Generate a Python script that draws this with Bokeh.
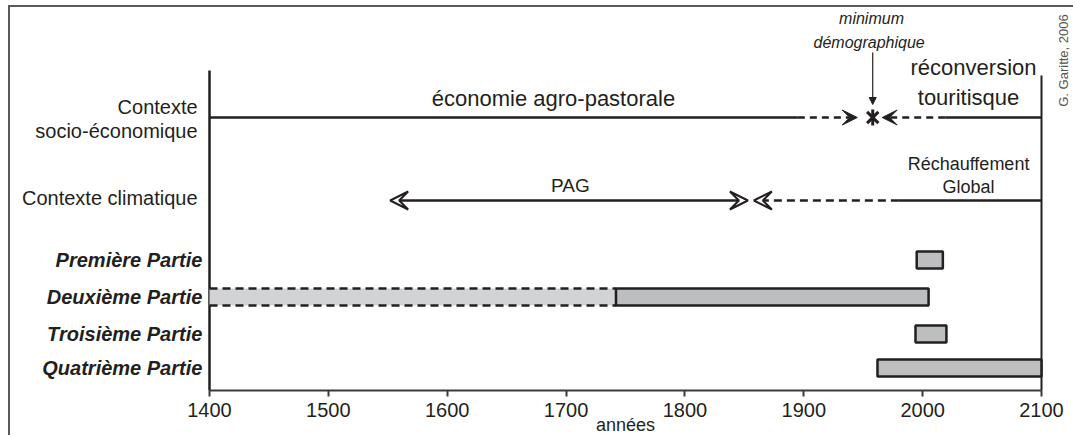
import math
from bokeh.plotting import figure
from bokeh.models import Range1d, LinearAxis, FixedTicker, Arrow, VeeHead, NormalHead
from bokeh.core.properties import value
from bokeh.embed import file_html
from bokeh.resources import INLINE

# ---------------- data ----------------
parts = ["Première Partie", "Deuxième Partie", "Troisième Partie", "Quatrième Partie"]
part_start = [1995, 1742, 1994, 1962]
part_end = [2017, 2005, 2020, 2100]
deux_ext_start = [1400]
deux_ext_end = [1742]
year_ticks = [1400, 1500, 1600, 1700, 1800, 1900, 2000, 2100]

socio_start = 1400
socio_solid_end = 1895
socio_arrow_tip = 1945
demog_min = 1958
socio_back_tip = 1966
socio_back_start = 2019
socio_end = 2100

pag_start = 1552
pag_end = 1853
rg_tip = 1858
rg_solid_start = 1980
clim_end = 2100

# ---------------- layout ----------------
INK = "#231f20"
SANS = "Liberation Sans"
PX_PER_YEAR = 832 / 700.0
OX, OY = 10, 7            # page position of figure content (margin + border)
FW, FH = 1065, 430        # figure size
X0 = 1400 - (209 - OX) / PX_PER_YEAR
X1 = 1400 + (OX + FW - 209) / PX_PER_YEAR
Y_AXIS = 390

Y_SOCIO = 117
Y_CLIM = 200
Y_ROWS = [259.5, 296.5, 333.5, 367.5]
BAR_H = 17

p = figure(width=FW, height=FH, output_backend="svg", toolbar_location=None,
           x_range=Range1d(X0, X1), y_range=Range1d(OY + FH, OY),
           x_axis_location=None, y_axis_location=None,
           min_border_left=0, min_border_right=0, min_border_top=0,
           min_border_bottom=0, outline_line_color=None,
           background_fill_color="white", border_fill_color="white",
           styles={"margin-left": "8px", "margin-top": "5px", "vertical-align": "top",
                   "border-left": "2px solid #5a5a5a", "border-top": "2px solid #5a5a5a"})
p.xgrid.visible = False
p.ygrid.visible = False

ax = LinearAxis(bounds=(1400, 2100), ticker=FixedTicker(ticks=year_ticks),
                fixed_location=Y_AXIS)
ax.axis_line_width = 2
ax.axis_line_color = "#3a3a3a"
ax.major_tick_line_width = 2
ax.major_tick_line_color = "#3a3a3a"
ax.major_tick_out = 6
ax.major_tick_in = 0
ax.minor_tick_out = 0
ax.minor_tick_in = 0
ax.major_label_text_font = SANS
ax.major_label_text_font_size = "20px"
ax.major_label_text_color = INK
ax.major_label_standoff = 6
p.add_layout(ax, "below")

# axis title, centred on the 1400-2100 span
p.text(x=[(year_ticks[0] + year_ticks[-1]) / 2], y=[424], text=["années"],
       text_font=value(SANS), text_font_size="18px", text_color=INK,
       text_align="center", text_baseline="middle")

# vertical guide lines
p.segment(x0=[1400], y0=[70], x1=[1400], y1=[Y_AXIS], line_color=INK, line_width=2.5)
p.segment(x0=[2100], y0=[75], x1=[2100], y1=[Y_AXIS], line_color=INK, line_width=2)

# Deuxième partie extension (uncertain period)
p.hbar(y=[Y_ROWS[1]], left=deux_ext_start, right=deux_ext_end, height=BAR_H,
       fill_color="#d1d3d4", line_color=None)
for dy in (-BAR_H / 2, BAR_H / 2):
    p.segment(x0=deux_ext_start, y0=[Y_ROWS[1] + dy], x1=deux_ext_end, y1=[Y_ROWS[1] + dy],
              line_color=INK, line_width=2.5, line_dash="8 5")

# bars
p.hbar(y=Y_ROWS, left=part_start, right=part_end, height=BAR_H,
       fill_color="#bcbec0", line_color=INK, line_width=2.5)

# row labels
p.text(x=[1394] * 4, y=Y_ROWS, text=parts, text_font=value(SANS), text_font_size="20px",
       text_font_style="bold italic", text_align="right", text_baseline="middle", text_color=INK)

# context labels
p.text(x=[1390, 1390, 1390], y=[106, 130, 197],
       text=["Contexte", "socio-économique", "Contexte climatique"],
       text_font=value(SANS), text_font_size="20px", text_align="right",
       text_baseline="middle", text_color=INK)

# socio-economic line
p.segment(x0=[socio_start], y0=[Y_SOCIO], x1=[socio_solid_end], y1=[Y_SOCIO],
          line_color=INK, line_width=2.5)
p.add_layout(Arrow(x_start=socio_solid_end, y_start=Y_SOCIO, x_end=socio_arrow_tip, y_end=Y_SOCIO,
                   line_color=INK, line_width=2.5, line_dash="7 5",
                   end=VeeHead(size=15, fill_color=INK, line_color=INK, line_width=1), start=None))
p.segment(x0=[socio_back_start], y0=[Y_SOCIO], x1=[socio_end], y1=[Y_SOCIO],
          line_color=INK, line_width=2.5)
p.add_layout(Arrow(x_start=socio_back_start, y_start=Y_SOCIO, x_end=socio_back_tip, y_end=Y_SOCIO,
                   line_color=INK, line_width=2.5, line_dash="7 5",
                   end=VeeHead(size=15, fill_color=INK, line_color=INK, line_width=1), start=None))
p.scatter(x=[demog_min], y=[Y_SOCIO], marker="x", size=16, line_width=3, line_color=INK)
p.scatter(x=[demog_min], y=[Y_SOCIO], marker="dash", angle=math.pi / 2, size=16,
          line_width=3, line_color=INK)
p.add_layout(Arrow(x_start=demog_min, y_start=52, x_end=demog_min, y_end=104,
                   line_color=INK, line_width=1.2,
                   end=NormalHead(size=7, fill_color=INK, line_color=INK, line_width=1), start=None))

# climatic line
p.add_layout(Arrow(x_start=pag_start, y_start=Y_CLIM, x_end=pag_end, y_end=Y_CLIM,
                   line_color=INK, line_width=2.5,
                   start=VeeHead(size=18, fill_color="white", line_color=INK, line_width=2),
                   end=VeeHead(size=18, fill_color="white", line_color=INK, line_width=2)))
p.segment(x0=[rg_solid_start], y0=[Y_CLIM], x1=[clim_end], y1=[Y_CLIM],
          line_color=INK, line_width=2.5)
p.add_layout(Arrow(x_start=rg_solid_start, y_start=Y_CLIM, x_end=rg_tip, y_end=Y_CLIM,
                   line_color=INK, line_width=2.5, line_dash="8 5",
                   end=VeeHead(size=18, fill_color="white", line_color=INK, line_width=2), start=None))

# annotations
p.text(x=[1689.4], y=[98], text=["économie agro-pastorale"], text_font=value(SANS),
       text_font_size="22px", text_align="center", text_baseline="middle", text_color=INK)
p.text(x=[2042.8, 2038.6], y=[67, 97], text=["réconversion", "touritisque"], text_font=value(SANS),
       text_font_size="22px", text_align="center", text_baseline="middle", text_color=INK)
p.text(x=[2038.6, 2038.6], y=[163, 186], text=["Réchauffement", "Global"], text_font=value(SANS),
       text_font_size="18px", text_align="center", text_baseline="middle", text_color=INK)
p.text(x=[1703.7], y=[185], text=["PAG"], text_font=value(SANS),
       text_font_size="19px", text_align="center", text_baseline="middle", text_color=INK)
p.text(x=[1957, 1955], y=[18, 42], text=["minimum", "démographique"], text_font=value(SANS),
       text_font_size="16px", text_font_style="italic", text_align="center",
       text_baseline="middle", text_color=INK)
p.text(x=[2118.5], y=[60], text=["G. Garitte, 2006"], text_font=value(SANS),
       text_font_size="13px", angle=math.pi / 2, text_align="center", text_baseline="middle",
       text_color="#555555")

open("out.html", "w").write(file_html(p, INLINE))
